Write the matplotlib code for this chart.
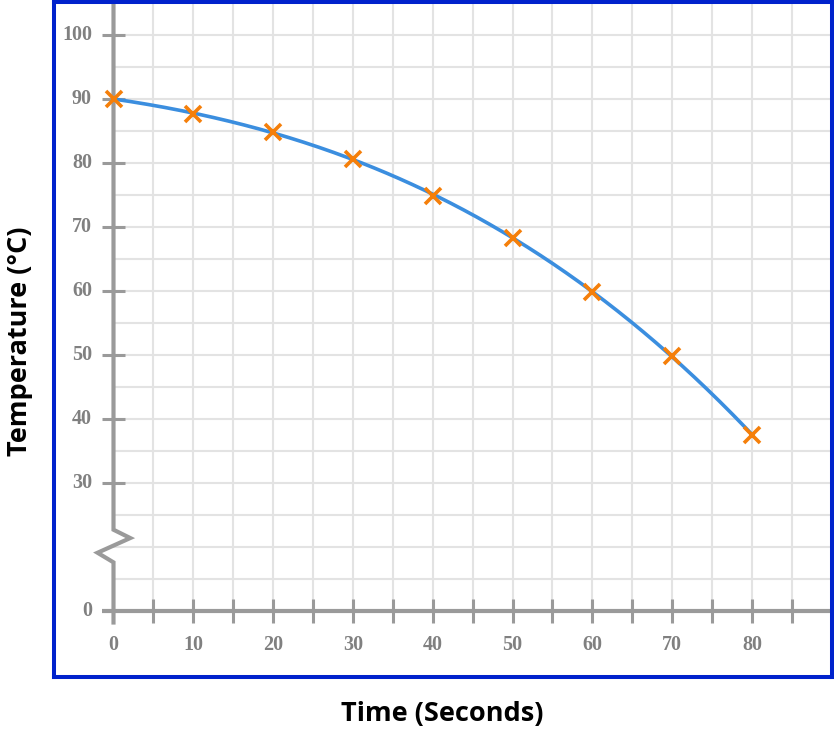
#!/usr/bin/env python3
import numpy as np
from matplotlib import pyplot as plt

# readings
time_s = np.array([0, 10, 20, 30, 40, 50, 60, 70, 80])
temp_c = np.array([90, 87.7, 84.9, 80.6, 74.9, 68.3, 59.9, 49.9, 37.5])

x_ticks = [0, 10, 20, 30, 40, 50, 60, 70, 80]
y_ticks = [0, 30, 40, 50, 60, 70, 80, 90, 100]

AXIS_GREY = '#9a9a9a'
LABEL_GREY = '#808080'
GRID_GREY = '#e3e3e3'


def ypos(v):
    # broken axis: 0 is drawn two grid steps below 30
    return np.where(np.asarray(v) == 0, 10, v)


def main():
    W, H = 834, 732
    fig = plt.figure(figsize=(W / 100, H / 100), dpi=100)
    ax = fig.add_axes([54 / W, (H - 677) / H, (832 - 54) / W, (677 - 2) / H])

    x0, sx = 113.5, 7.98
    ax.set_xlim((54 - x0) / sx, (832 - x0) / sx)
    ax.set_ylim(100 - (677 - 35) / 6.4, 100 + (35 - 2) / 6.4)
    ax.set_xticks([])
    ax.set_yticks([])
    for s in ax.spines.values():
        s.set_color('#0022cc')
        s.set_linewidth(2.9)

    xmax = ax.get_xlim()[1]
    ymax = ax.get_ylim()[1]

    # grid
    for gx in np.arange(5, 90, 5):
        ax.plot([gx, gx], [10, ymax], color=GRID_GREY, lw=1.5, zorder=1)
    for gy in np.arange(15, 105, 5):
        ax.plot([0, xmax], [gy, gy], color=GRID_GREY, lw=1.5, zorder=1)

    # x axis with ticks
    ax.plot([-1.45, xmax], [10, 10], color=AXIS_GREY, lw=3, zorder=2,
            solid_capstyle='butt')
    for tx in np.arange(5, 90, 5):
        ax.plot([tx, tx], [10 - 1.8, 10 + 1.8], color=AXIS_GREY, lw=2.2,
                zorder=2, solid_capstyle='butt')

    # y axis with break
    ax.plot([0, 0, 2.1, -2.0, 0, 0], [ymax, 22.7, 21.4, 19.1, 17.6, 10 - 1.8],
            color=AXIS_GREY, lw=3, zorder=2, solid_joinstyle='miter')
    for ty in ypos(y_ticks)[1:]:
        ax.plot([-1.45, 1.45], [ty, ty], color=AXIS_GREY, lw=2.2, zorder=2,
                solid_capstyle='butt')

    tick_font = dict(family='Liberation Serif', fontweight='bold',
                     fontsize=14.5, color=LABEL_GREY)
    for v, p in zip(y_ticks, ypos(y_ticks)):
        ax.text(-2.7, p, str(v), ha='right', va='center', **tick_font)
    for v in x_ticks:
        ax.text(v, 4.7, str(v), ha='center', va='center', **tick_font)

    # smooth curve fitted to the readings
    coef = np.polyfit(time_s, temp_c, 3)
    tt = np.linspace(time_s[0], time_s[-1], 300)
    ax.plot(tt, np.polyval(coef, tt), color='#3b8edf', lw=2.6, zorder=3)
    ax.plot(time_s, ypos(temp_c), linestyle='none', marker='x', ms=11,
            mew=2.6, color='#f57f0a', zorder=4)

    lab_font = dict(family='Open Sans', fontweight='bold', fontsize=19.5,
                    color='#000000')
    fig.text(442 / W, 1 - 714 / H, 'Time (Seconds)', ha='center', va='center',
             **lab_font)
    fig.text(20 / W, 1 - 341 / H, 'Temperature (°C)', ha='center', va='center',
             rotation=90, **lab_font)

    fig.savefig('out.png', dpi=100)


if __name__ == "__main__":
    main()
